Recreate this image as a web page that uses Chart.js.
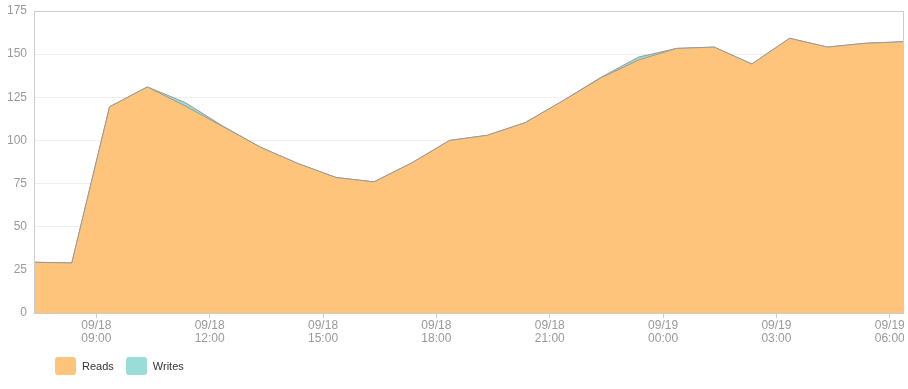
<!DOCTYPE html>
<html>
<head>
<meta charset="utf-8">
<script src="https://cdn.jsdelivr.net/npm/chart.js@4.4.0/dist/chart.umd.min.js"></script>
<style>
    body { margin: 0; background: #fff; font-family: "Liberation Sans", Arial, sans-serif; }
    #wrap { position: relative; width: 908px; height: 389px; }
    #chart { position: absolute; left: 0; top: 0; }
    #legend { position: absolute; left: 55px; top: 357px; display: flex; font-size: 11px; color: #333; }
    .item { display: flex; align-items: center; margin-right: 12px; }
    .swatch { width: 21px; height: 18px; border-radius: 3px; margin-right: 6px; }
</style>
</head>
<body>
<div id="wrap">
    <canvas id="chart" width="904" height="389"></canvas>
    <div id="legend"></div>
</div>
<script>
// Hourly samples, 09/18 07:21 -> 09/19 06:21
const times = [
    '09/18 07:21', '09/18 08:21', '09/18 09:21', '09/18 10:21', '09/18 11:21', '09/18 12:21',
    '09/18 13:21', '09/18 14:21', '09/18 15:21', '09/18 16:21', '09/18 17:21', '09/18 18:21',
    '09/18 19:21', '09/18 20:21', '09/18 21:21', '09/18 22:21', '09/18 23:21', '09/19 00:21',
    '09/19 01:21', '09/19 02:21', '09/19 03:21', '09/19 04:21', '09/19 05:21', '09/19 06:21'
];

const reads = [
    29.4, 29.0, 119.5, 131.0, 120.0, 108.0, 96.0, 86.5, 78.5, 76.0, 87.0, 100.0,
    103.0, 110.3, 123.0, 136.2, 146.6, 153.3, 154.1, 144.3, 159.2, 154.1, 156.3, 157.2
];

const writes = [
    29.4, 29.0, 119.5, 131.0, 122.0, 108.3, 96.0, 86.5, 78.5, 76.0, 87.0, 100.0,
    103.0, 110.3, 123.0, 136.5, 148.3, 153.3, 154.1, 144.3, 159.2, 154.1, 156.3, 157.2
];

const tickTimes = ['09/18 09:00', '09/18 12:00', '09/18 15:00', '09/18 18:00',
                   '09/18 21:00', '09/19 00:00', '09/19 03:00', '09/19 06:00'];

const yTicks = [0, 25, 50, 75, 100, 125, 150, 175];

const seriesNames = ['Reads', 'Writes'];
const seriesColors = ['#fec47b', '#9adcd8'];

// hours since 09/18 00:00
function toHours(s) {
    const [date, time] = s.split(' ');
    const day = parseInt(date.split('/')[1], 10) - 18;
    const [h, m] = time.split(':').map(Number);
    return day * 24 + h + m / 60;
}

const xs = times.map(toHours);
const tickHours = tickTimes.map(toHours);

const chartBorder = {
    id: 'chartBorder',
    afterDraw(chart) {
        const { ctx, chartArea: a } = chart;
        ctx.save();
        ctx.strokeStyle = '#cccccc';
        ctx.lineWidth = 1;
        ctx.strokeRect(Math.round(a.left) + 0.5, Math.round(a.top) + 0.5,
            Math.round(a.right - a.left), Math.round(a.bottom - a.top));
        ctx.restore();
    }
};

const makeSet = (label, values, color) => ({
    label: label,
    data: values.map((v, i) => ({ x: xs[i], y: v })),
    backgroundColor: color,
    borderColor: '#9a9a9a',
    borderWidth: 1,
    fill: 'origin',
    pointRadius: 0,
    tension: 0
});

new Chart(document.getElementById('chart'), {
    type: 'line',
    data: {
        datasets: [
            makeSet(seriesNames[0], reads, seriesColors[0]),
            makeSet(seriesNames[1], writes, seriesColors[1])
        ]
    },
    options: {
        responsive: false,
        animation: false,
        layout: { padding: { top: 11, right: 1, left: 0, bottom: 0 } },
        plugins: {
            legend: { display: false },
            tooltip: { enabled: false }
        },
        scales: {
            x: {
                type: 'linear',
                min: xs[0],
                max: xs[xs.length - 1],
                afterBuildTicks: (scale) => {
                    scale.ticks = tickHours.map(v => ({ value: v }));
                },
                afterFit: (scale) => {
                    scale.height = 76;
                    scale.paddingLeft = 0;
                    scale.paddingRight = 0;
                },
                ticks: {
                    autoSkip: false,
                    maxRotation: 0,
                    color: '#999999',
                    padding: 1,
                    font: { family: 'Liberation Sans', size: 12, lineHeight: 1.1 },
                    callback: (value, index) => tickTimes[index].split(' ')
                },
                grid: {
                    drawOnChartArea: false,
                    drawTicks: true,
                    tickLength: 5,
                    color: '#cccccc'
                },
                border: { color: '#cccccc' }
            },
            y: {
                min: 0,
                max: 175,
                afterBuildTicks: (scale) => {
                    scale.ticks = yTicks.map(v => ({ value: v }));
                },
                afterFit: (scale) => {
                    scale.width = 34;
                    scale.paddingTop = 0;
                    scale.paddingBottom = 0;
                },
                ticks: {
                    color: '#999999',
                    padding: 7,
                    font: { family: 'Liberation Sans', size: 12 }
                },
                grid: {
                    drawTicks: false,
                    color: '#eeeeee'
                },
                border: { color: '#cccccc' }
            }
        }
    },
    plugins: [chartBorder]
});

// legend
const legend = document.getElementById('legend');
seriesNames.forEach((name, i) => {
    const item = document.createElement('div');
    item.className = 'item';
    item.innerHTML = '<span class="swatch" style="background:' + seriesColors[i] + '"></span>' + name;
    legend.appendChild(item);
});
</script>
</body>
</html>
